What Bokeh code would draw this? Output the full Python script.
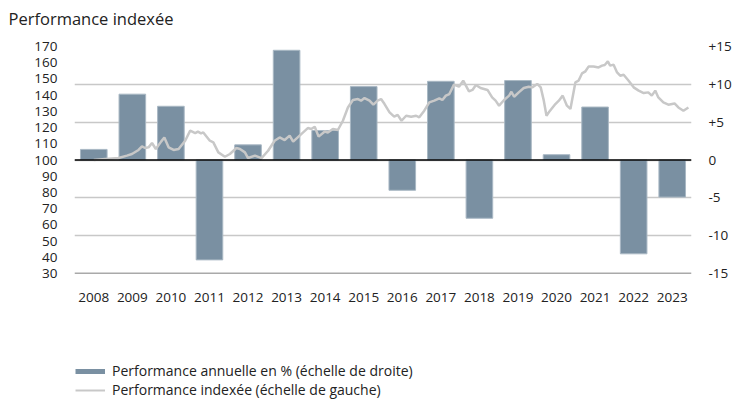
from bokeh.plotting import figure
from bokeh.layouts import column
from bokeh.models import Range1d, LinearAxis, FixedTicker, Span, Legend, LegendItem, Title
from bokeh.embed import file_html
from bokeh.resources import INLINE

# ---- data ----
years = list(range(2008, 2024))
annual_perf = [1.4, 8.7, 7.1, -13.2, 2.0, 14.5, 3.9, 9.7, -4.0, 10.4, -7.7, 10.5, 0.7, 7.0, -12.4, -4.9]

index_dates = [2008.50, 2008.80, 2009.14, 2009.36, 2009.49, 2009.66, 2009.75, 2009.83, 2009.92,
               2010.01, 2010.11, 2010.25, 2010.33, 2010.44, 2010.57, 2010.70, 2010.87,
               2011.00, 2011.13, 2011.20, 2011.28, 2011.34, 2011.51, 2011.60, 2011.73, 2011.90,
               2012.03, 2012.20, 2012.29, 2012.42, 2012.50, 2012.68, 2012.85,
               2013.02, 2013.19, 2013.32, 2013.45, 2013.58, 2013.67, 2013.88,
               2014.05, 2014.14, 2014.23, 2014.33, 2014.49, 2014.57, 2014.70, 2014.83, 2014.96,
               2015.09, 2015.22, 2015.35, 2015.43, 2015.52, 2015.65, 2015.75, 2015.86, 2015.95,
               2016.04, 2016.17, 2016.29, 2016.38, 2016.48, 2016.60, 2016.73, 2016.86, 2016.94,
               2017.07, 2017.20, 2017.33, 2017.46, 2017.54, 2017.63, 2017.72, 2017.84, 2017.97,
               2018.08, 2018.23, 2018.32, 2018.41, 2018.53, 2018.71, 2018.83, 2018.92,
               2019.01, 2019.14, 2019.27, 2019.33, 2019.40, 2019.52, 2019.65, 2019.78, 2019.87,
               2020.00, 2020.09, 2020.17, 2020.24, 2020.30, 2020.47, 2020.56, 2020.66, 2020.77, 2020.86, 2020.99,
               2021.07, 2021.16, 2021.25, 2021.33, 2021.46, 2021.59, 2021.68, 2021.75, 2021.83, 2021.89, 2021.98,
               2022.07, 2022.15, 2022.24, 2022.37, 2022.50, 2022.63, 2022.76, 2022.88, 2022.97,
               2023.06, 2023.14, 2023.27, 2023.40, 2023.56, 2023.66, 2023.79, 2023.92]
index_values = [100.0, 100.6, 101.2, 102.7, 103.7, 106.2, 108.4, 107.4, 107.8,
                110.5, 106.8, 111.5, 113.9, 107.8, 106.2, 106.8, 111.9,
                118.1, 116.6, 117.5, 116.4, 117.0, 111.9, 110.9, 104.7, 102.0,
                103.7, 107.4, 106.8, 104.7, 101.2, 102.7, 101.2,
                105.7, 111.9, 113.9, 112.3, 115.0, 111.3, 116.0,
                119.7, 119.1, 120.5, 114.4, 117.6, 117.0, 119.1, 118.5, 124.2,
                132.4, 137.0, 137.6, 136.6, 138.2, 136.6, 134.1, 136.6, 137.6,
                134.5, 129.4, 126.7, 127.8, 124.2, 127.3, 126.7, 127.3, 126.3,
                130.4, 135.5, 136.6, 138.0, 137.0, 139.7, 140.7, 146.5, 145.2,
                148.9, 142.3, 143.2, 146.3, 144.4, 143.2, 138.6, 136.6,
                133.5, 137.0, 139.7, 142.1, 139.0, 141.7, 144.4, 145.2, 144.8,
                146.9, 144.8, 136.6, 127.3, 129.4, 134.5, 136.6, 139.7, 133.5, 131.5, 147.9,
                148.9, 153.4, 154.7, 157.6, 157.7, 157.1, 158.2, 158.6, 160.8, 158.2, 158.8,
                154.0, 152.0, 152.6, 148.9, 144.8, 142.8, 141.3, 141.7, 139.7,
                142.8, 138.6, 135.5, 134.1, 134.9, 132.4, 130.4, 132.4]

left_ticks = list(range(30, 171, 10))
right_ticks = [-15, -10, -5, 0, 5, 10, 15]
right_tick_labels = ["-15", "-10", "-5", "0", "+5", "+10", "+15"]

subtitle = "Performance indexée"
legend_bar = "Performance annuelle en % (échelle de droite)"
legend_line = "Performance indexée (échelle de gauche)"

BAR_COLOR = "#7a90a2"
LINE_COLOR = "#c8c8c8"
FONT = "Open Sans"
TXT = "#222222"

left_lo, left_hi = 30, 170
right_lo, right_hi = -15, 15

p = figure(width=734, height=340, output_backend="svg", toolbar_location=None,
           x_range=Range1d(2007.5, 2023.5), y_range=Range1d(left_lo, left_hi),
           min_border_left=74, min_border_right=41, min_border_top=46, min_border_bottom=67)
p.outline_line_color = None
p.background_fill_color = "white"
p.border_fill_color = "white"

p.title.text = subtitle
p.title.text_font = FONT
p.title.text_font_size = "16.5px"
p.title.text_font_style = "normal"
p.title.text_color = TXT
p.title.align = "left"
p.title.offset = -66
p.title.standoff = 4
# empty spacer between the subtitle and the plot area
p.add_layout(Title(text=" ", text_font_size="1px", standoff=12), "above")

p.extra_y_ranges = {"right": Range1d(right_lo, right_hi)}

# grid aligned to right-axis ticks
scale = (left_hi - 100) / right_hi
p.ygrid.ticker = FixedTicker(ticks=[100 + t * scale for t in right_ticks])
p.ygrid.grid_line_color = "#c8c8c8"
p.ygrid.grid_line_width = 1.5
p.xgrid.visible = False

def style_axis(ax):
    ax.axis_line_color = None
    ax.major_tick_line_color = None
    ax.minor_tick_line_color = None
    ax.major_label_text_font = FONT
    ax.major_label_text_font_size = "13.5px"
    ax.major_label_text_color = TXT

p.yaxis.ticker = FixedTicker(ticks=left_ticks)
style_axis(p.yaxis[0])
p.yaxis.major_label_standoff = 11

rax = LinearAxis(y_range_name="right", ticker=FixedTicker(ticks=right_ticks),
                 major_label_overrides={t: l for t, l in zip(right_ticks, right_tick_labels)})
style_axis(rax)
rax.major_label_standoff = 11
p.add_layout(rax, "right")

p.xaxis.ticker = FixedTicker(ticks=years)
style_axis(p.xaxis[0])
p.xaxis.major_label_standoff = 13

p.vbar(x=years, top=annual_perf, bottom=0, width=0.69, y_range_name="right",
       fill_color=BAR_COLOR, line_color="#a9b8c4", line_width=1)

p.line(x=[d - 0.5 for d in index_dates], y=index_values, line_color=LINE_COLOR, line_width=2.5)

p.add_layout(Span(location=100, dimension="width", line_color="black", line_width=1.5))
p.add_layout(Span(location=left_lo, dimension="width", line_color="#555555", line_width=1.5))

# ---- legend in its own strip below (frame aligned with the chart's frame) ----
q = figure(width=734, height=61, output_backend="svg", toolbar_location=None,
           x_axis_location=None, y_axis_location=None,
           x_range=Range1d(0, 1), y_range=Range1d(0, 1),
           min_border_left=0, min_border_right=0, min_border_top=0, min_border_bottom=0)
q.outline_line_color = None
q.xgrid.visible = False
q.ygrid.visible = False
# legend-only renderers, kept outside the visible range
r1 = q.line(x=[5, 6], y=[5, 5], line_color=BAR_COLOR, line_width=5)
r2 = q.line(x=[5, 6], y=[5, 5], line_color=LINE_COLOR, line_width=2)
legend = Legend(items=[LegendItem(label=legend_bar, renderers=[r1]),
                       LegendItem(label=legend_line, renderers=[r2])],
                location=(1, 2), orientation="vertical",
                border_line_color=None, background_fill_alpha=0,
                glyph_width=30, glyph_height=18, label_height=18, spacing=0,
                padding=0, margin=0, label_standoff=7,
                label_text_font=FONT, label_text_font_size="14px", label_text_color=TXT)
q.add_layout(legend, "center")

layout = column(p, q, spacing=0)
open("out.html", "w").write(file_html(layout, INLINE))
